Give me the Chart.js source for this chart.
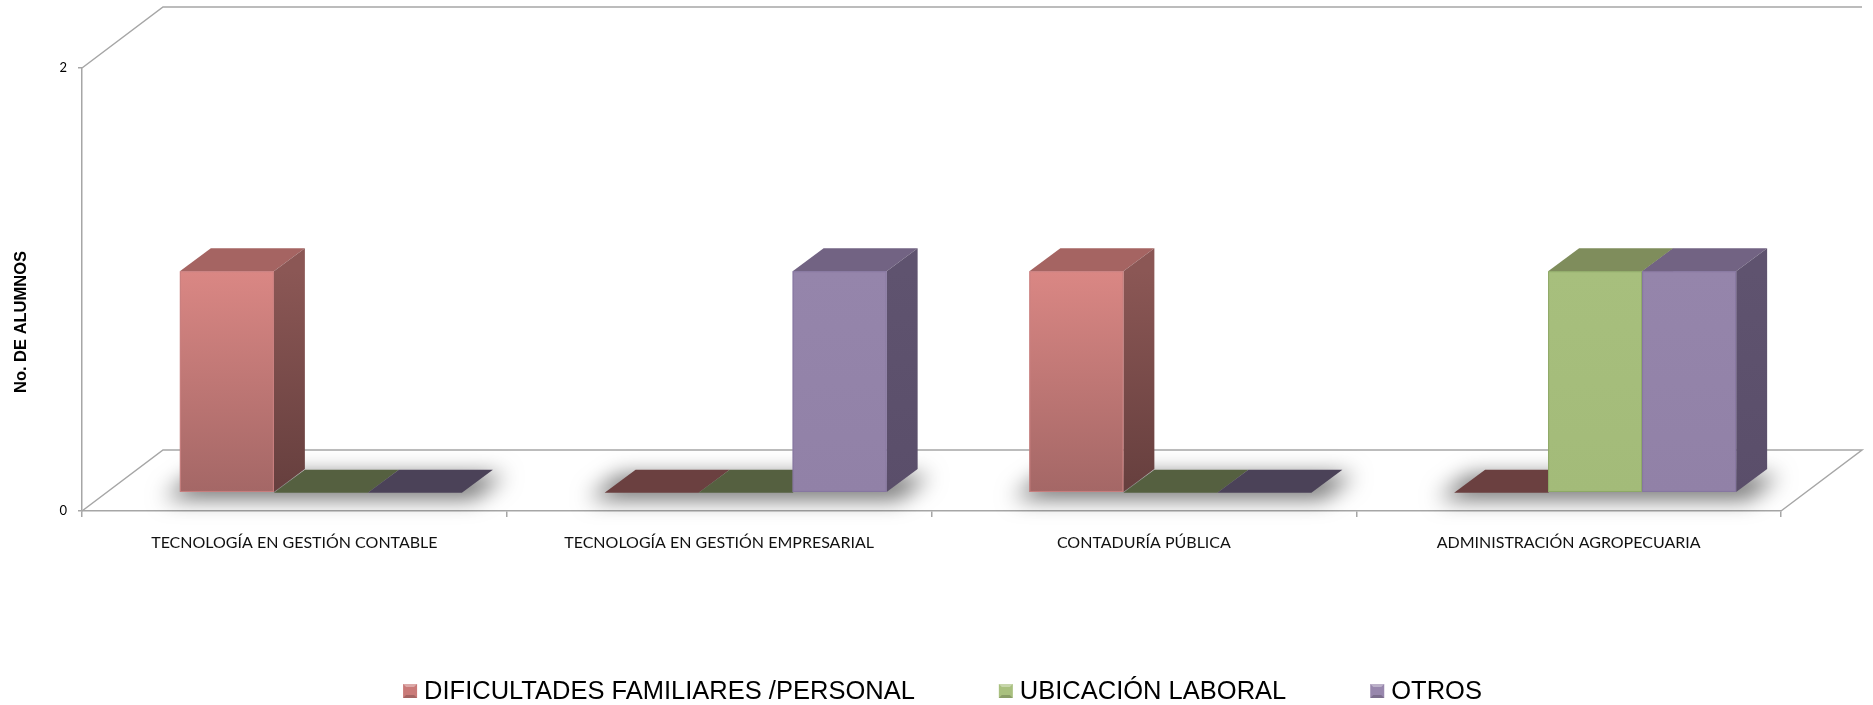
<!DOCTYPE html>
<html>
<head>
<meta charset="utf-8">
<script src="https://cdn.jsdelivr.net/npm/chart.js@4.4.0/dist/chart.umd.min.js"></script>
<style>
  html, body { margin: 0; padding: 0; background: #ffffff; }
  #wrap { width: 1873px; height: 705px; position: relative; }
</style>
</head>
<body>
<div id="wrap"><canvas id="desercion"></canvas></div>
<script>
const categories = [
  "TECNOLOGÍA EN GESTIÓN CONTABLE",
  "TECNOLOGÍA EN GESTIÓN EMPRESARIAL",
  "CONTADURÍA PÚBLICA",
  "ADMINISTRACIÓN AGROPECUARIA",
];
const seriesNames = ["DIFICULTADES FAMILIARES /PERSONAL", "UBICACIÓN LABORAL", "OTROS"];
const dificultades = [1, 0, 1, 0];
const ubicacion = [0, 0, 0, 1];
const otros = [0, 1, 0, 1];
const yTicks = [0, 2];
const yTitle = "No. DE ALUMNOS";

// 3D look: wall depth, where the bar row sits inside it, and bar depth
const DEPTH = { x: 81, y: -61 };
const SHIFT = { x: 26.5, y: -18.3 };
const BAR_DEPTH = { x: 31, y: -23 };
const LINE = "#a6a6a6";

const faces = [
  { top: "#da8784", bottom: "#a46766", side: ["#8b5755", "#663f3e"], cap: "#a56462", edge: "#c98080", flat: "#6b4040", mark: "#c97a78" },
  { top: "#a7bf7d", bottom: "#a3bb79", side: ["#6e7d4c", "#5d6a3f"], cap: "#7f8d5c", edge: "#8da866", flat: "#556040", mark: "#a9c07f" },
  { top: "#9585ab", bottom: "#9181a7", side: ["#5f536f", "#5a4e6a"], cap: "#726383", edge: "#8676a0", flat: "#4b4258", mark: "#9887ad" },
];

function poly(ctx, pts) {
  ctx.beginPath();
  ctx.moveTo(pts[0][0], pts[0][1]);
  for (let k = 1; k < pts.length; k++) ctx.lineTo(pts[k][0], pts[k][1]);
  ctx.closePath();
}

const cube3d = {
  id: "cube3d",
  beforeDatasetsDraw(chart) {
    const { ctx, chartArea: a } = chart;
    ctx.save();
    ctx.strokeStyle = LINE;
    ctx.lineWidth = 1.5;
    ctx.beginPath();
    ctx.moveTo(a.left, a.top);
    ctx.lineTo(a.left + DEPTH.x, a.top + DEPTH.y);
    ctx.lineTo(a.right + DEPTH.x, a.top + DEPTH.y);
    ctx.moveTo(a.left, a.bottom);
    ctx.lineTo(a.left + DEPTH.x, a.bottom + DEPTH.y);
    ctx.lineTo(a.right + DEPTH.x, a.bottom + DEPTH.y);
    ctx.lineTo(a.right, a.bottom);
    ctx.stroke();

    // soft shadow on the floor under each group of bars
    const n = chart.data.datasets.length;
    const off = 4000;
    ctx.shadowColor = "rgba(0,0,0,0.6)";
    ctx.shadowBlur = 22;
    ctx.shadowOffsetX = off;
    ctx.shadowOffsetY = 3;
    ctx.fillStyle = "#000";
    for (let j = 0; j < categories.length; j++) {
      const first = chart.getDatasetMeta(0).data[j];
      const last = chart.getDatasetMeta(n - 1).data[j];
      const l = first.x - first.width / 2 + SHIFT.x - 16 - off;
      const r = last.x + last.width / 2 + SHIFT.x + 12 - off;
      const yb = first.base + SHIFT.y + 3;
      poly(ctx, [[l, yb], [r, yb], [r + BAR_DEPTH.x, yb + BAR_DEPTH.y], [l + BAR_DEPTH.x, yb + BAR_DEPTH.y]]);
      ctx.fill();
    }
    ctx.restore();
  },
  afterDatasetsDraw(chart) {
    const ctx = chart.ctx;
    const n = chart.data.datasets.length;
    ctx.save();
    for (let j = 0; j < categories.length; j++) {
      for (let i = 0; i < n; i++) {
        const el = chart.getDatasetMeta(i).data[j];
        const st = faces[i];
        const x0 = el.x - el.width / 2 + SHIFT.x;
        const x1 = el.x + el.width / 2 + SHIFT.x;
        const yb = el.base + SHIFT.y;
        const yt = el.y + SHIFT.y;
        const dx = BAR_DEPTH.x, dy = BAR_DEPTH.y;
        if (yb - yt < 0.5) {
          poly(ctx, [[x0, yb], [x1, yb], [x1 + dx, yb + dy], [x0 + dx, yb + dy]]);
          ctx.fillStyle = st.flat;
          ctx.fill();
          continue;
        }
        // top
        poly(ctx, [[x0, yt], [x1, yt], [x1 + dx, yt + dy], [x0 + dx, yt + dy]]);
        ctx.fillStyle = st.cap;
        ctx.fill();
        // right side
        const sg = ctx.createLinearGradient(0, yt, 0, yb);
        sg.addColorStop(0, st.side[0]);
        sg.addColorStop(1, st.side[1]);
        poly(ctx, [[x1, yb], [x1, yt], [x1 + dx, yt + dy], [x1 + dx, yb + dy]]);
        ctx.fillStyle = sg;
        ctx.fill();
        // front
        const fg = ctx.createLinearGradient(0, yt, 0, yb);
        fg.addColorStop(0, st.top);
        fg.addColorStop(1, st.bottom);
        ctx.fillStyle = fg;
        ctx.fillRect(x0, yt, x1 - x0, yb - yt);
        ctx.strokeStyle = st.edge;
        ctx.lineWidth = 1;
        ctx.strokeRect(x0 + 0.5, yt + 0.5, x1 - x0 - 1, yb - yt - 1);
      }
    }
    ctx.restore();
  },
  afterDraw(chart) {
    const ctx = chart.ctx;
    ctx.save();
    // y axis title
    ctx.translate(21, 322);
    ctx.rotate(-Math.PI / 2);
    ctx.font = "bold 16.5px 'Liberation Sans', Arial, sans-serif";
    ctx.fillStyle = "#000";
    ctx.textAlign = "center";
    ctx.textBaseline = "middle";
    ctx.fillText(yTitle, 0, 0);
    ctx.restore();

    // legend
    ctx.save();
    ctx.font = "25.5px 'Liberation Sans', Arial, sans-serif";
    ctx.textBaseline = "middle";
    const box = 14, gapText = 7, gapItem = 84;
    const labels = chart.data.datasets.map((d) => d.label);
    const widths = labels.map((t) => ctx.measureText(t).width);
    const total = widths.reduce((s, w) => s + box + gapText + w, 0) + gapItem * (labels.length - 1);
    let x = (chart.width - total) / 2 + 6;
    const cy = 691;
    labels.forEach((t, i) => {
      const st = faces[i];
      const bx = x, by = cy - box / 2;
      ctx.fillStyle = st.mark;
      ctx.fillRect(bx, by, box, box);
      ctx.fillStyle = "rgba(255,255,255,0.35)";
      poly(ctx, [[bx, by], [bx + box, by], [bx + box - 3, by + 3], [bx + 3, by + 3]]);
      ctx.fill();
      ctx.fillStyle = "rgba(0,0,0,0.18)";
      poly(ctx, [[bx, by + box], [bx + box, by + box], [bx + box - 3, by + box - 3], [bx + 3, by + box - 3]]);
      ctx.fill();
      ctx.fillStyle = "#000";
      ctx.fillText(t, bx + box + gapText, cy + 1);
      x += box + gapText + widths[i] + gapItem;
    });
    ctx.restore();
  },
};

const ctx = document.getElementById("desercion").getContext("2d");

new Chart(ctx, {
  type: "bar",
  data: {
    labels: categories,
    datasets: [
      { label: seriesNames[0], data: dificultades },
      { label: seriesNames[1], data: ubicacion },
      { label: seriesNames[2], data: otros },
    ].map((d) => ({ ...d, backgroundColor: "rgba(0,0,0,0)", borderWidth: 0, categoryPercentage: 0.664, barPercentage: 1 })),
  },
  plugins: [cube3d],
  options: {
    responsive: true,
    maintainAspectRatio: false,
    animation: false,
    layout: { padding: { top: 68, right: 92, left: 0, bottom: 0 } },
    plugins: {
      legend: { display: false },
      tooltip: { enabled: false },
    },
    scales: {
      x: {
        grid: { drawOnChartArea: false, offset: true, tickLength: 6, color: LINE, lineWidth: 1.5 },
        border: { color: LINE, width: 1.5 },
        ticks: {
          color: "#111",
          font: { family: "Lato", size: 16 },
          padding: 16,
          maxRotation: 0,
          autoSkip: false,
        },
        afterFit: (scale) => { scale.height = 194; },
      },
      y: {
        min: 0,
        max: 2,
        afterBuildTicks: (scale) => { scale.ticks = yTicks.map((v) => ({ value: v })); },
        grid: { drawOnChartArea: false, tickLength: 4, color: LINE, lineWidth: 1.5 },
        border: { color: LINE, width: 1.5 },
        ticks: { color: "#000", font: { family: "Lato", size: 13 }, padding: 11 },
        afterFit: (scale) => { scale.width = 82; },
      },
    },
  },
});
</script>
</body>
</html>
